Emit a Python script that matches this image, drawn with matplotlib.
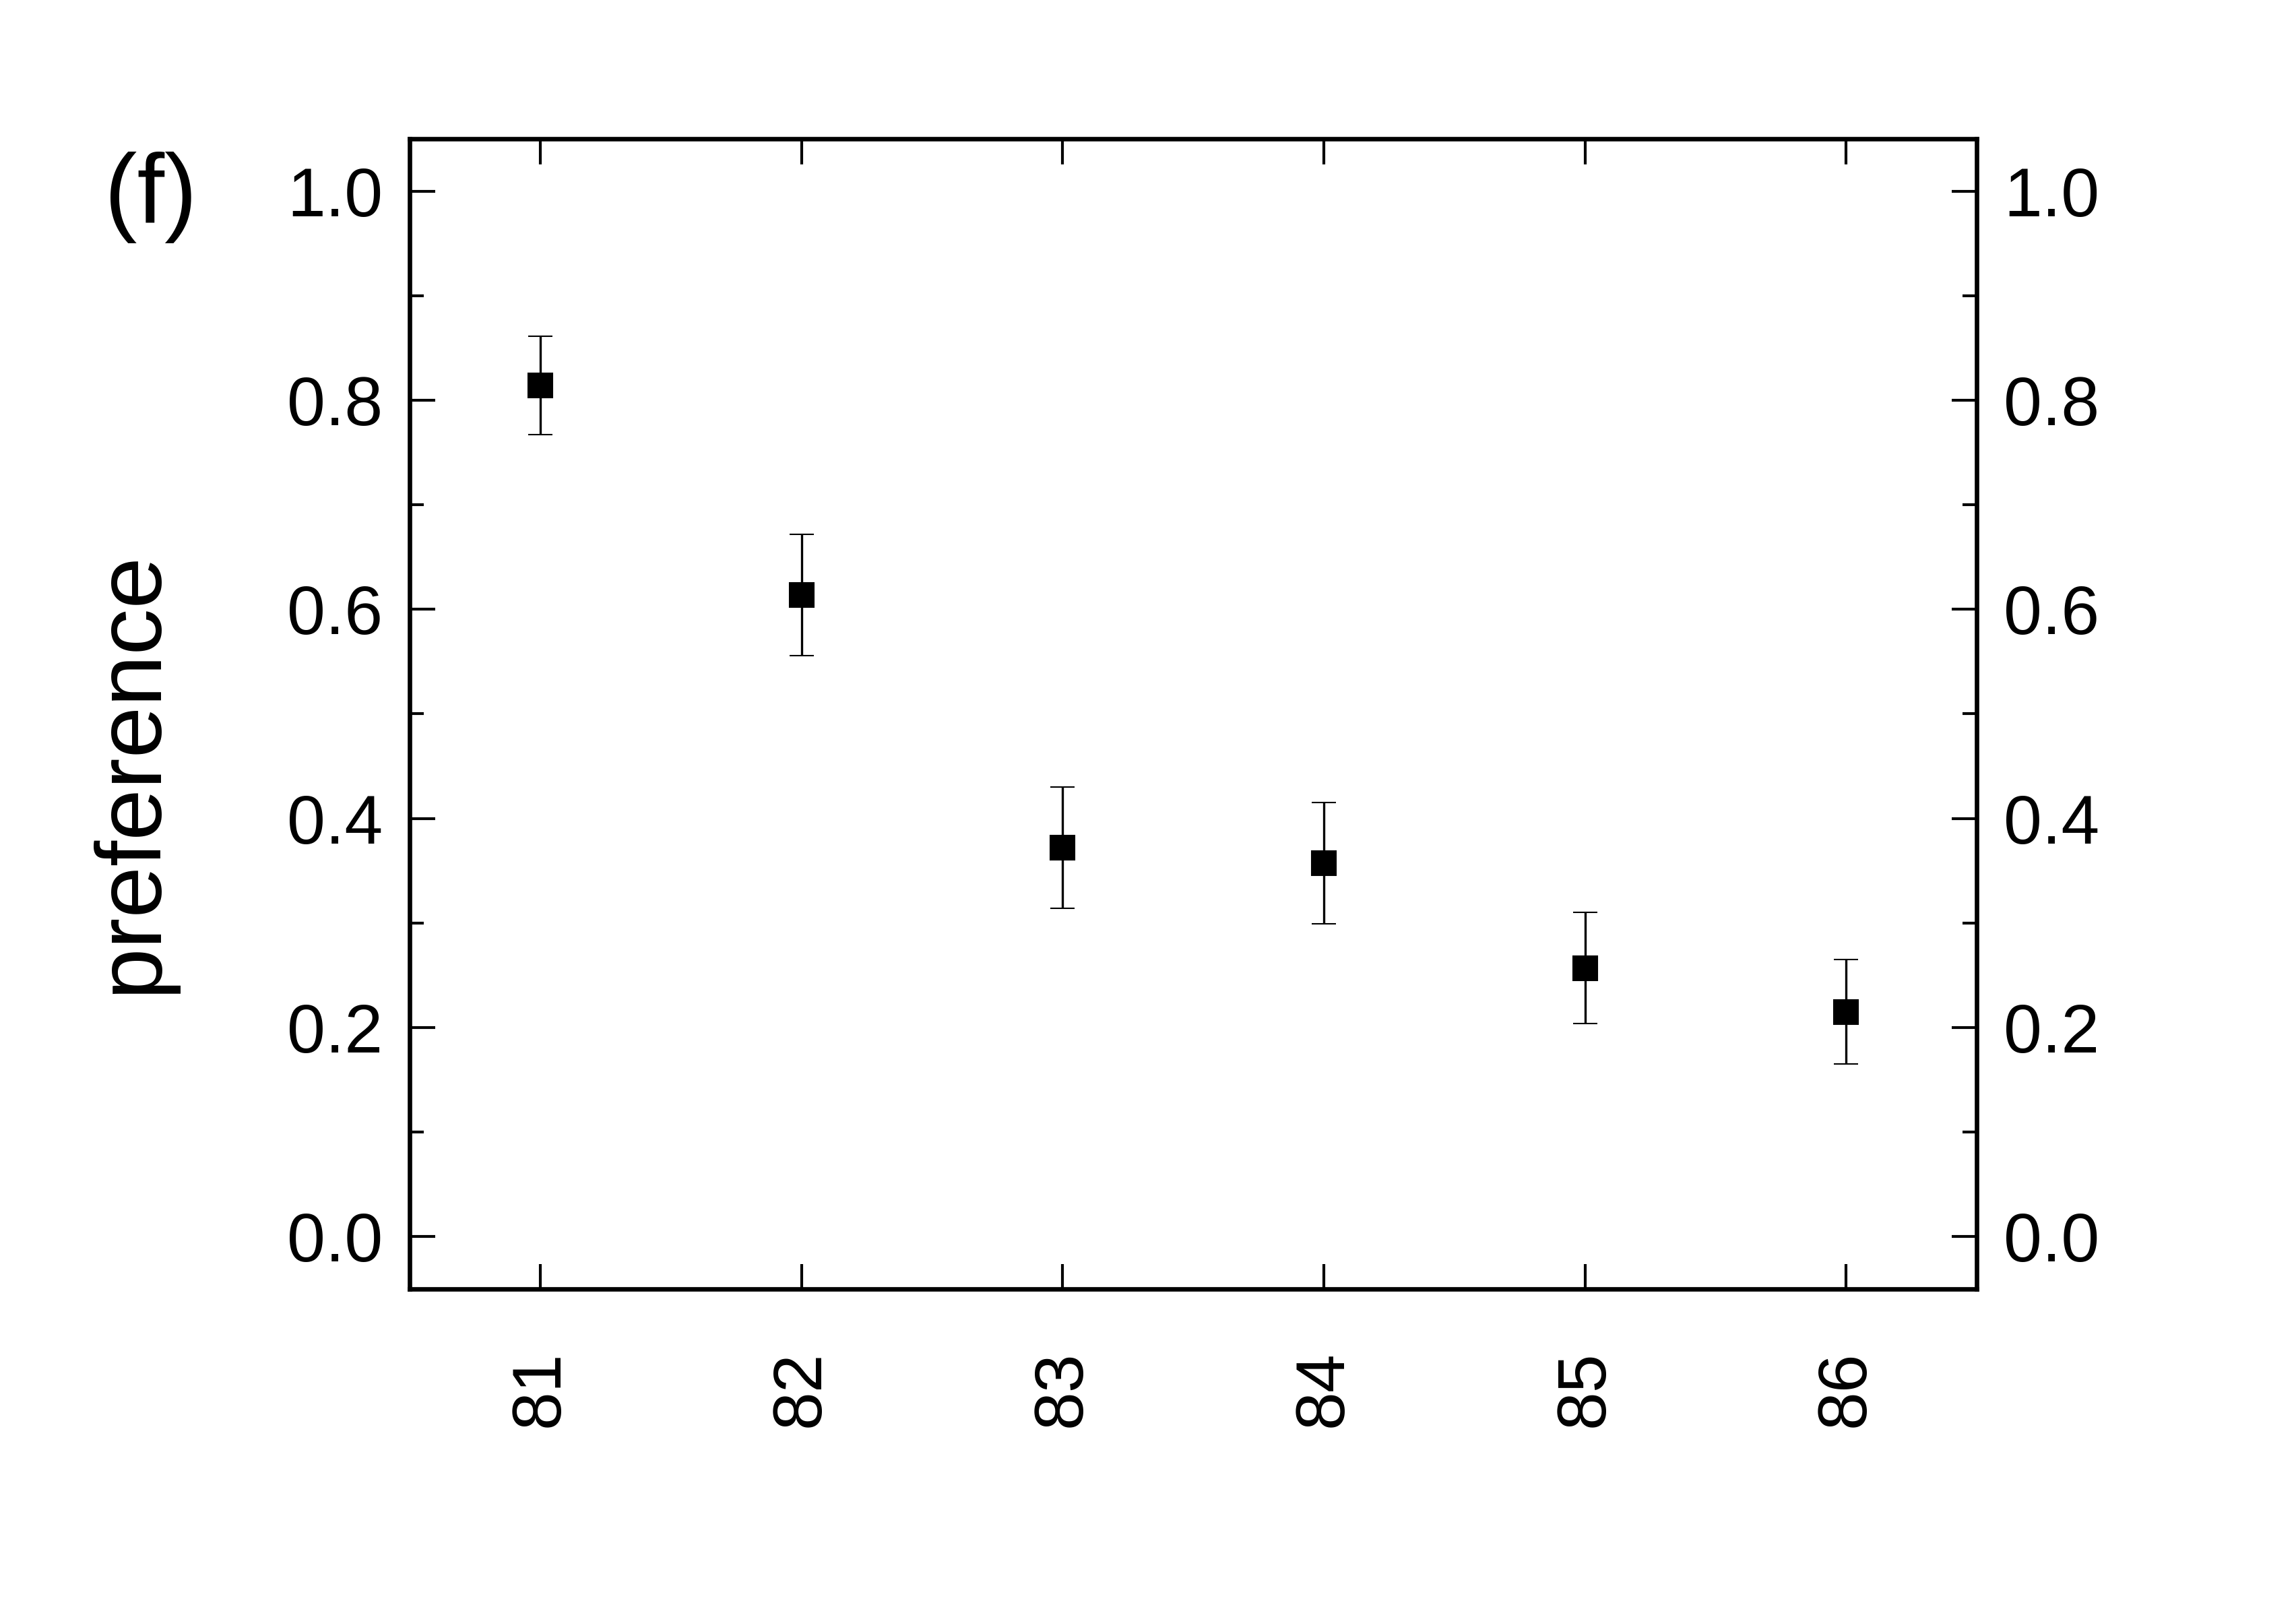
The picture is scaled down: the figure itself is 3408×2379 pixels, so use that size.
import matplotlib
matplotlib.use("Agg")
import matplotlib.pyplot as plt
from matplotlib.ticker import MultipleLocator

# data
xcat = [81, 82, 83, 84, 85, 86]
pref = [0.814, 0.614, 0.372, 0.357, 0.257, 0.215]
perr = [0.047, 0.058, 0.058, 0.058, 0.053, 0.050]
ylabel = "preference"
panel = "(f)"

plt.rcParams['font.family'] = ['Liberation Sans', 'DejaVu Sans']

fig = plt.figure(figsize=(11.36, 7.93), dpi=300)
ax = fig.add_axes([0.1784, 0.1959, 0.861 - 0.1784, 0.9134 - 0.1959])

ax.errorbar(xcat, pref, yerr=perr, fmt='s', color='black', ms=8.8,
            mec='black', mew=0.5, ecolor='black', elinewidth=0.8,
            capsize=4.3, capthick=0.8)

ax.set_xlim(80.5, 86.5)
ax.set_ylim(-0.05, 1.05)
ax.set_xticks(xcat)
ax.set_xticklabels([str(v) for v in xcat], rotation=90)
ax.yaxis.set_major_locator(MultipleLocator(0.2))
ax.yaxis.set_minor_locator(MultipleLocator(0.1))
ax.yaxis.set_major_formatter(plt.FormatStrFormatter('%.1f'))

for s in ax.spines.values():
    s.set_linewidth(1.6)

ax.tick_params(axis='y', which='major', direction='in', length=9, width=1.0,
               left=True, right=True, labelleft=True, labelright=True,
               labelsize=24.5, pad=9.5)
ax.tick_params(axis='y', which='minor', direction='in', length=5, width=1.0,
               left=True, right=True)
ax.tick_params(axis='x', which='major', direction='in', length=9, width=1.0,
               bottom=True, top=True, labelsize=24.5, pad=22)

# y label and panel letter placed in figure pixels
fig.text(196 / 3408, 1 - 1146 / 2379, ylabel, fontsize=33, rotation=90,
         ha='center', va='center')
fig.text(224 / 3408, 1 - 293 / 2379, panel, fontsize=35, ha='center', va='center')

fig.savefig("out.png", dpi=300)
